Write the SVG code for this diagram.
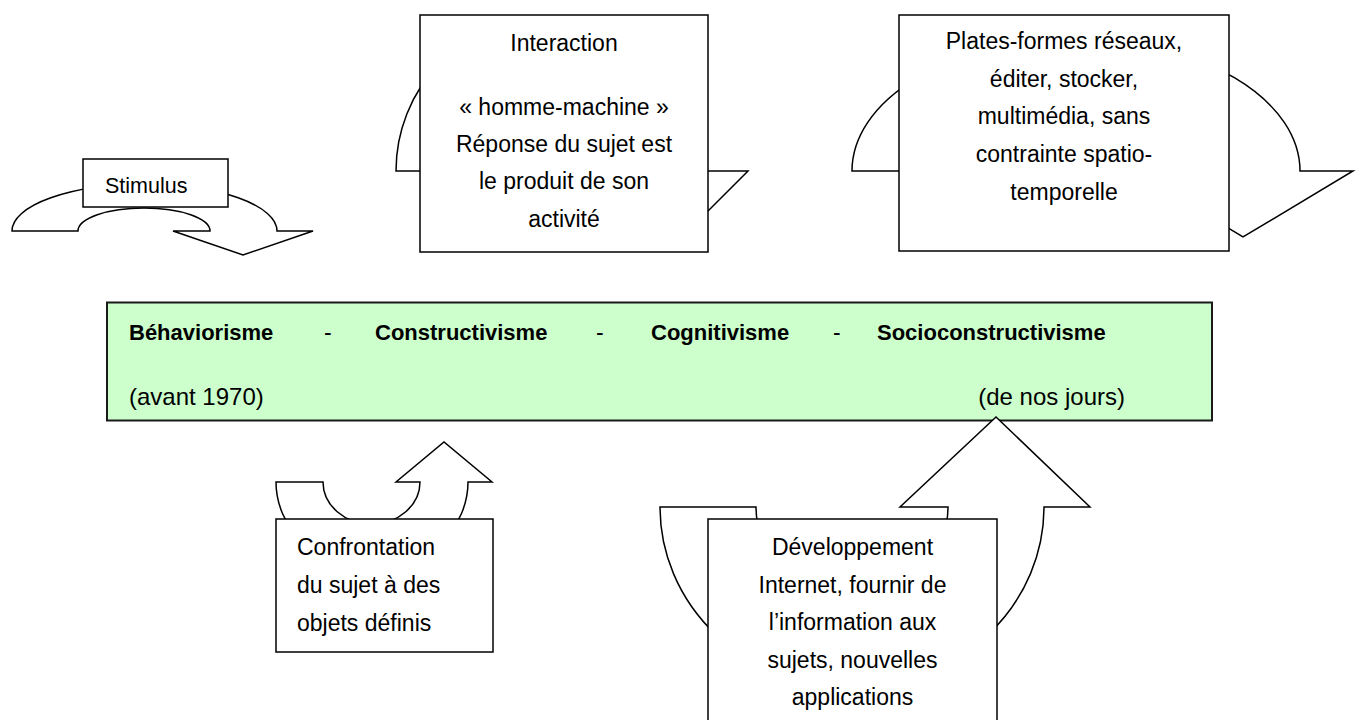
<svg xmlns="http://www.w3.org/2000/svg" width="1362" height="720" viewBox="0 0 1362 720">
<style>
text{font-family:"Liberation Sans",Arial,sans-serif;fill:#000}
.t{font-size:23px}
.c{text-anchor:middle}
.b{font-size:22px;font-weight:bold}
.r{font-size:24px}
.box{fill:#fff;stroke:#000;stroke-width:1.5}
.arr{fill:#fff;stroke:#000;stroke-width:1.5;stroke-linejoin:miter}
</style>
<rect width="1362" height="720" fill="#fff"/>
<g id="timeline">
<rect x="107" y="302.5" width="1105" height="118" fill="#ccffcc" stroke="#1a1a1a" stroke-width="2"/>
<text class="b" x="129" y="340">Béhaviorisme</text>
<text class="t" x="324" y="340">-</text>
<text class="b" x="375" y="340">Constructivisme</text>
<text class="t" x="596" y="340">-</text>
<text class="b" x="651" y="340">Cognitivisme</text>
<text class="t" x="833" y="340">-</text>
<text class="b" x="877" y="340">Socioconstructivisme</text>
<text class="r" x="129" y="405">(avant 1970)</text>
<text class="r" x="1125" y="405" text-anchor="end">(de nos jours)</text>
</g>
<g id="connectors">
<path class="arr" d="M12,231 A132.5,47 0 0 1 277,231 L313,231 L243,255 L173,231 L210,231 A66,23 0 0 0 78,231 Z"/>
<path class="arr" d="M396,171 A154.5,155 0 0 1 705,171 L748,171 L690,229 L632,171 L675,171 A102.5,110 0 0 0 470,171 Z"/>
<path class="arr" d="M852,171 A224,132 0 0 1 1300,171 L1353,171 L1243,237 L1133,171 L1186,171 A110,70 0 0 0 966,171 Z"/>
<path class="arr" d="M276,482 L323,482 A48.5,42 0 0 0 420,482 L396,482 L444,442 L492,482 L468,482 A96,87 0 0 1 276,482 Z"/>
<path class="arr" d="M660,507 L756,507 A96,90 0 0 0 948,507 L900,507 L996,417 L1090,507 L1044,507 A192,181 0 0 1 660,507 Z"/>
</g>
<g id="stimulus">
<rect class="box" x="83" y="159" width="145" height="48"/>
<text class="t" x="105" y="193" style="font-size:21.5px">Stimulus</text>
</g>
<g id="interaction">
<rect class="box" x="420" y="15" width="288" height="237"/>
<text class="t c" x="564" y="51">Interaction</text>
<text class="t c" x="564" y="115">« homme-machine »</text>
<text class="t c" x="564" y="152">Réponse du sujet est</text>
<text class="t c" x="564" y="189">le produit de son</text>
<text class="t c" x="564" y="227">activité</text>
</g>
<g id="plateformes">
<rect class="box" x="899" y="15" width="330" height="236"/>
<text class="t c" x="1064" y="49">Plates-formes réseaux,</text>
<text class="t c" x="1064" y="87">éditer, stocker,</text>
<text class="t c" x="1064" y="124">multimédia, sans</text>
<text class="t c" x="1064" y="162">contrainte spatio-</text>
<text class="t c" x="1064" y="200">temporelle</text>
</g>
<g id="confrontation">
<rect class="box" x="276" y="519" width="217" height="133"/>
<text class="t" x="297" y="555">Confrontation</text>
<text class="t" x="297" y="593">du sujet à des</text>
<text class="t" x="297" y="631">objets définis</text>
</g>
<g id="developpement">
<rect class="box" x="708" y="519" width="289" height="215"/>
<text class="t c" x="852.5" y="555">Développement</text>
<text class="t c" x="852.5" y="593">Internet, fournir de</text>
<text class="t c" x="852.5" y="630">l’information aux</text>
<text class="t c" x="852.5" y="668">sujets, nouvelles</text>
<text class="t c" x="852.5" y="705">applications</text>
</g>
</svg>
